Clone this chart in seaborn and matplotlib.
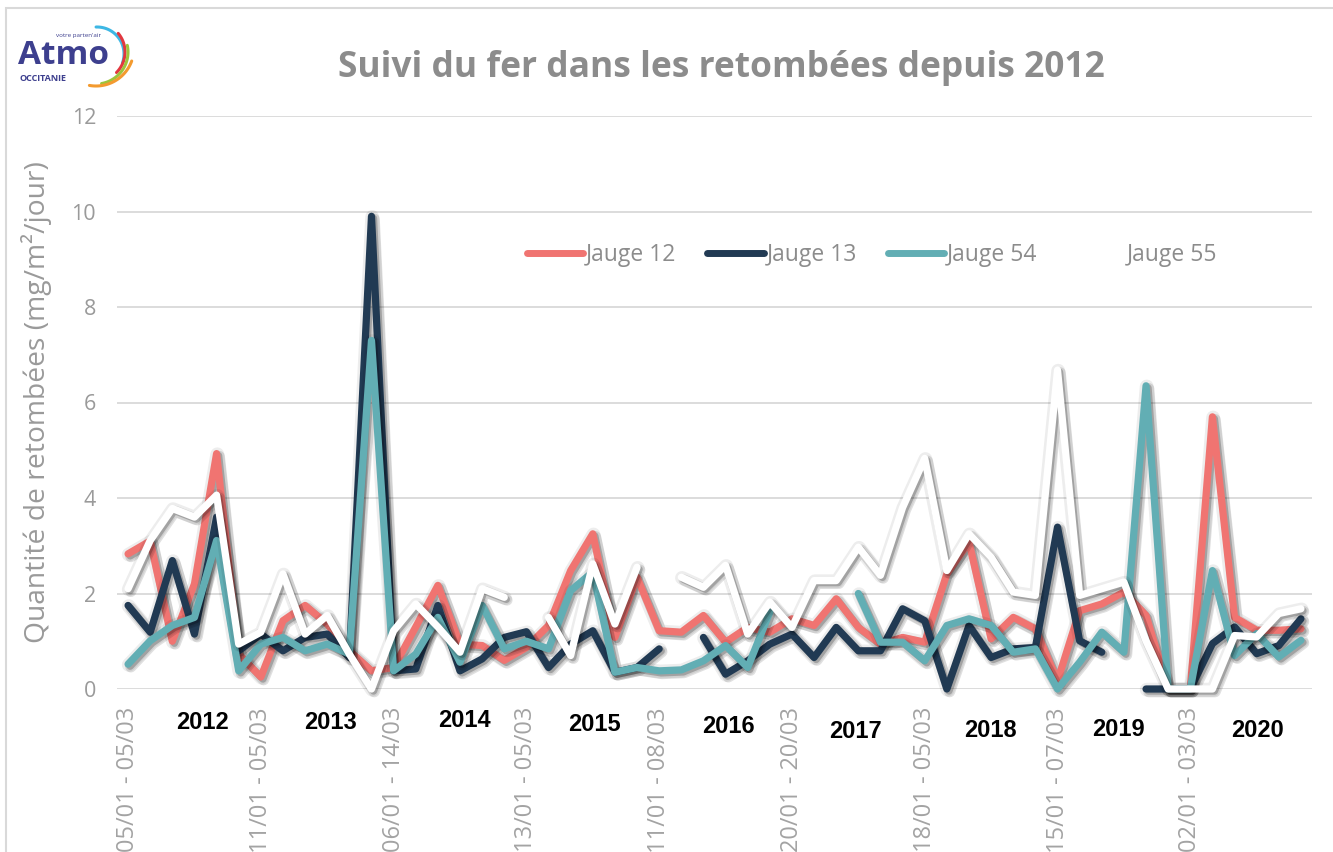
import numpy as np
import pandas as pd
import matplotlib
matplotlib.use("Agg")
import matplotlib.pyplot as plt
import matplotlib.patheffects as pe
from matplotlib.lines import Line2D
from matplotlib.patches import Rectangle
import seaborn as sns

nan = np.nan

# ---------------- data ----------------
series_names = ["Jauge 12", "Jauge 13", "Jauge 54", "Jauge 55"]

jauge_12 = [2.83, 3.1, 1.0, 2.2, 4.93, 0.73, 0.25, 1.43, 1.75, 1.36, 0.8, 0.38, 0.45, 1.3,
            2.17, 0.94, 0.91, 0.6, 0.87, 1.33, 2.48, 3.25, 1.08, 2.34, 1.22, 1.19, 1.54, 0.98,
            1.29, 1.19, 1.47, 1.33, 1.89, 1.29, 0.94, 1.08, 0.98, 2.41, 3.08, 1.05, 1.5, 1.26,
            0.17, 1.64, 1.78, 2.03, 1.54, 0.0, 0.0, 5.7, 1.5, 1.23, 1.23, 1.26]

jauge_13 = [1.75, 1.19, 2.69, 1.15, 3.6, 0.8, 1.15, 0.8, 1.08, 1.15, 0.66, 9.9, 0.38, 0.42,
            1.75, 0.38, 0.63, 1.08, 1.2, 0.45, 0.94, 1.22, 0.35, 0.45, 0.84, nan, 1.08, 0.31,
            0.59, 0.94, 1.15, 0.66, 1.29, 0.8, 0.8, 1.68, 1.43, 0.0, 1.33, 0.66, 0.84, 0.87,
            3.39, 1.01, 0.77, nan, 0.0, 0.0, 0.0, 0.95, 1.3, 0.74, 0.91, 1.47]

jauge_54 = [0.52, 1.01, 1.33, 1.5, 3.11, 0.38, 0.94, 1.08, 0.8, 0.94, 0.73, 7.3, 0.38, 0.73,
            1.5, 0.56, 1.75, 0.84, 1.0, 0.84, 2.06, 2.45, 0.35, 0.45, 0.38, 0.4, 0.59, 0.91,
            0.45, 1.61, nan, nan, nan, 2.0, 0.98, 0.98, 0.59, 1.33, 1.47, 1.33, 0.77, 0.84,
            0.0, 0.56, 1.19, 0.77, 6.35, 0.0, 0.0, 2.48, 0.7, 1.16, 0.67, 1.02]

jauge_55 = [2.1, 3.11, 3.78, 3.6, 4.06, 0.94, 1.19, 2.41, 1.15, 1.54, 0.73, 0.0, 1.22, 1.78,
            1.3, 0.77, 2.1, 1.92, nan, 1.5, 0.7, 2.62, 1.36, 2.55, nan, 2.34, 2.13, 2.59,
            1.15, 1.82, 1.29, 2.27, 2.27, 2.97, 2.38, 3.8, 4.83, 2.48, 3.25, 2.76, 2.03, 1.96,
            6.68, 1.96, 2.1, 2.24, 1.01, 0.0, 0.0, 0.0, 1.12, 1.09, 1.58, 1.68]

tick_labels = ["05/01 - 05/03", "11/01 - 05/03", "06/01 - 14/03", "13/01 - 05/03",
               "11/01 - 08/03", "20/01 - 20/03", "18/01 - 05/03", "15/01 - 07/03",
               "02/01 - 03/03"]
years = ["2012", "2013", "2014", "2015", "2016", "2017", "2018", "2019", "2020"]

title = "Suivi du fer dans les retombées depuis 2012"
ylabel = "Quantité de retombées (mg/m²/jour)"

# ---------------- layout / style ----------------
colors = ["#F07471", "#213A53", "#62AEB4", "#FFFFFF"]
tick_step = 6
year_x = [3.38, 9.14, 15.18, 21.08, 27.12, 32.88, 38.96, 44.77, 51.04]
year_y = [-0.70, -0.70, -0.66, -0.74, -0.79, -0.89, -0.87, -0.85, -0.87]

rows = []
for name, vals in zip(series_names, [jauge_12, jauge_13, jauge_54, jauge_55]):
    seg = 0
    prev_nan = True
    for i, v in enumerate(vals):
        if np.isnan(v):
            prev_nan = True
            continue
        if prev_nan:
            seg += 1
            prev_nan = False
        rows.append({"idx": i, "val": v, "serie": name, "seg": f"{name}-{seg}"})
df = pd.DataFrame(rows)
n_cat = len(jauge_12)

sns.set_theme(style="white")
plt.rcParams["font.family"] = ["Open Sans", "DejaVu Sans"]

fig = plt.figure(figsize=(13.33, 8.52), dpi=100)
ax = fig.add_axes([117 / 1333, 1 - 689 / 852, 1195 / 1333, 573 / 852])

sns.lineplot(data=df, x="idx", y="val", hue="serie", units="seg", estimator=None,
             hue_order=series_names, palette=dict(zip(series_names, colors)),
             linewidth=5.2, sort=False, legend=False, ax=ax)

for ln in ax.lines:
    ln.set_solid_capstyle("round")
    ln.set_solid_joinstyle("round")
    ln.set_clip_on(False)
    ln.set_path_effects([
        pe.SimpleLineShadow(offset=(0.5, -0.5), shadow_color="#000000", alpha=0.07, linewidth=10),
        pe.SimpleLineShadow(offset=(2.0, -2.0), shadow_color="#000000", alpha=0.12, linewidth=8),
        pe.SimpleLineShadow(offset=(1.5, -1.5), shadow_color="#000000", alpha=0.22),
        pe.Normal(),
    ])

ax.set_xlim(-0.5, n_cat - 0.5)
ax.set_ylim(0, 12)
ax.set_yticks(range(0, 13, 2))
ax.set_xticks(range(0, n_cat, tick_step)[:len(tick_labels)])
ax.set_xticklabels(tick_labels, rotation=90, va="top", ha="center")
ax.tick_params(axis="x", length=0, pad=13, labelsize=17, labelcolor="#A3A3A3")
ax.tick_params(axis="y", length=0, pad=15, labelsize=15.5, labelcolor="#9A9A9A")
ax.grid(axis="y", color="#DCDCDC", linewidth=1.4)
ax.grid(axis="x", visible=False)
ax.set_axisbelow(True)
for s in ax.spines.values():
    s.set_visible(False)
ax.set_xlabel("")
ax.set_ylabel(ylabel, fontsize=20.3, color="#9A9A9A")
ax.yaxis.set_label_coords(-0.054, 0.5)

for yr, xx, yy in zip(years, year_x, year_y):
    ax.text(xx, yy, yr, ha="center", va="center", fontsize=17, fontweight="bold",
            family=["Liberation Sans", "DejaVu Sans"], color="black", clip_on=False)

handles = [Line2D([], [], color=c, lw=5, solid_capstyle="round") for c in colors]
ax.legend(handles, series_names, loc="center", bbox_to_anchor=(0.632, 0.757), ncol=4,
          frameon=False, fontsize=16.5, handlelength=2.45, handletextpad=0.12,
          columnspacing=1.35, labelcolor="#8C8C8C")

fig.text(721 / 1333, 1 - 68 / 852, title, ha="center", va="center", fontsize=25.5,
         fontweight="bold", color="#8C8C8C")

# chart border
fig.add_artist(Rectangle((6 / 1333, -0.05), 1.0, (1 - 8 / 852) + 0.05,
                         transform=fig.transFigure, fill=False,
                         edgecolor="#D9D9D9", linewidth=1.5))

# logo (decorative)
lax = fig.add_axes([0, 0, 1, 1], zorder=5)
lax.set_xlim(0, 1333)
lax.set_ylim(852, 0)
lax.axis("off")
lax.patch.set_visible(False)
navy = "#3D3F8E"
lax.text(18, 64, "Atmo", fontsize=24, fontweight="bold", color=navy, ha="left",
         va="baseline")
lax.text(20, 81, "OCCITANIE", fontsize=6.5, fontweight="bold", color=navy, ha="left",
         va="baseline")
lax.text(56, 37, "votre parten'air", fontsize=4.5, color=navy, ha="left", va="baseline")
arcs = [((97, 54), 27, -20, 92, "#3DB7E4"),
        ((96, 52), 29, -45, 40, "#E2383F"),
        ((96, 52), 32, -80, 12, "#9DC43C"),
        ((96, 48), 38, -100, -20, "#F39A2F")]
for (cx, cy), r, t0, t1, col in arcs:
    t = np.radians(np.linspace(t0, t1, 60))
    lax.plot(cx + r * np.cos(t), cy - r * np.sin(t), color=col, lw=2.2,
             solid_capstyle="round")

fig.savefig("out.png", dpi=100, facecolor="white")
